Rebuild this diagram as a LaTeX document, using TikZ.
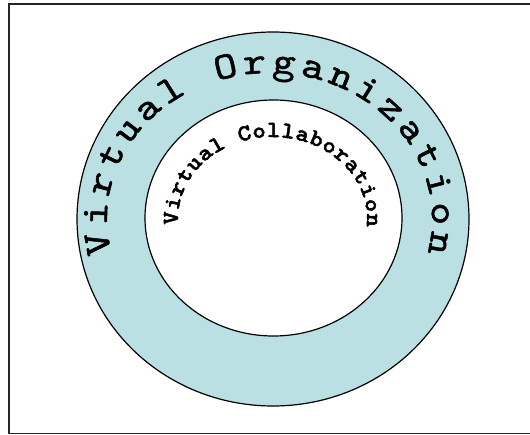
\documentclass[tikz,border=0pt]{standalone}
\usepackage{fontspec}
\newfontfamily\outerfont{lmmono10-regular.otf}[FakeStretch=1.15, FakeBold=1.3]
\newfontfamily\innerfont{lmmonolt10-bold.otf}[FakeStretch=1.1, FakeBold=2.2]
\usetikzlibrary{shapes.geometric,decorations.text}
\definecolor{ringblue}{RGB}{187,224,227}
\tikzset{
  ring/.style={ellipse, draw=black, line width=1.2pt, inner sep=0pt},
  frame/.style={draw=black!85, line width=1.6pt},
}
\begin{document}
\begin{tikzpicture}[x=1pt,y=1pt]
\useasboundingbox (0,0) rectangle (530,434);
\draw[frame] (9,0.5) rectangle (545,430);
\node[ring, fill=ringblue, minimum width=392pt, minimum height=374pt] (outer) at (273,215) {};
\node[ring, fill=white, minimum width=257pt, minimum height=236pt] (inner) at (273.5,216) {};
\coordinate (oc) at (269.5,215);
\coordinate (ic) at (272.5,215);
\path[decorate, decoration={text along path, text align={fit to path},
    text format delimiters={|}{|},
    text={|\outerfont\fontsize{38}{38}\selectfont|Virtual Organization}}]
  ([shift={(oc)}]193.5:162.5pt and 146pt) arc[start angle=193.5, end angle=-13.5, x radius=162.5pt, y radius=146pt];
\path[decorate, decoration={text along path, text align={fit to path},
    text format delimiters={|}{|},
    text={|\innerfont\fontsize{23}{23}\selectfont|Virtual Collaboration}}]
  ([shift={(ic)}]184:94.5pt and 82pt) arc[start angle=184, end angle=-5.5, x radius=94.5pt, y radius=82pt];
\end{tikzpicture}
\end{document}
